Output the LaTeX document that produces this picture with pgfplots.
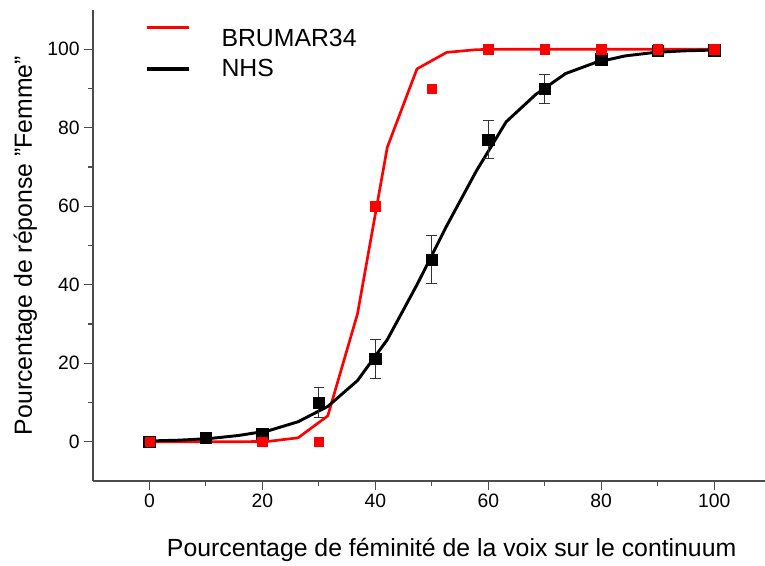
\documentclass[border=0pt]{standalone}
\usepackage{pgfplots}
\pgfplotsset{compat=1.18}
\usepackage{fontspec}
\setmainfont{Liberation Sans}
\begin{document}
\begin{tikzpicture}[x=0.75pt,y=0.75pt]
\begin{axis}[
  scale only axis,
  width=504pt, height=353.25pt,
  xmin=-10, xmax=109, ymin=-10, ymax=110,
  axis x line=bottom, axis y line=left,
  axis line style={-, line width=0.8pt, black!70},
  xtick={0,20,40,60,80,100}, ytick={0,20,40,60,80,100},
  minor x tick num=1, minor y tick num=1,
  tick align=outside,
  major tick length=6.5pt, minor tick length=4pt,
  tick style={line width=0.8pt, black!70},
  /pgf/number format/assume math mode=true,
  ticklabel style={font=\fontsize{14.5}{17}\selectfont},
  xlabel={Pourcentage de féminité de la voix sur le continuum},
  ylabel={Pourcentage de réponse \symbol{34}Femme\symbol{34}},
  label style={font=\fontsize{18.6}{22}\selectfont},
  xlabel style={at={(rel axis cs:0.5,0)}, anchor=base, yshift=-56.25pt, xshift=17pt},
  ylabel style={at={(axis description cs:-0.0908,0.5)}, anchor=base},
  legend style={draw=none, fill=none, at={(axis cs:-0.9,106)}, anchor=north west,
    inner sep=0pt, outer sep=0pt,
    font=\fontsize{18.6}{22}\selectfont, row sep=9pt, column sep=0pt,
    nodes={inner sep=0pt, outer sep=0pt, text height=13.5pt, text depth=0pt}},
  legend cell align=left,
  clip=false,
]
% fitted curves
\addplot[red, line width=2pt, line join=round,
  legend image code/.code={\draw[red, line width=2.8pt] (0pt,7.1pt) -- (31.5pt,7.1pt);
     \path[draw=none] (0pt,-7.1pt) -- (56.25pt,-7.1pt);}] coordinates {
(0,0) (5.26,0) (10.53,0) (15.79,0) (21.05,0.1) (26.32,1) (31.58,6.6) (36.84,32.6)
(42.11,75) (47.37,95) (52.63,99.2) (57.89,99.9) (63.16,100) (68.42,100) (73.68,100)
(78.95,100) (84.21,100) (89.47,100) (94.74,100) (100,100)};
\addlegendentry{BRUMAR34}
\addplot[black, line width=2.2pt, line join=round,
  legend image code/.code={\draw[black, line width=3.2pt] (0pt,-1.1pt) -- (31.5pt,-1.1pt);
     \path[draw=none] (0pt,1.1pt) -- (56.25pt,1.1pt);}] coordinates {
(0,0.2) (5.26,0.4) (10.53,0.8) (15.79,1.6) (21.05,2.8) (26.32,5.1) (31.58,9)
(36.84,15.6) (42.11,26) (47.37,40) (52.63,55) (57.89,69) (63.16,81.5) (68.42,88.5)
(73.68,93.8) (78.95,96.6) (84.21,98.3) (89.47,99.2) (94.74,99.6) (100,99.8)};
\addlegendentry{NHS}
% NHS data with error bars
\addplot[black, only marks, mark=square*, mark size=4.3pt, forget plot,
  error bars/.cd, y dir=both, y explicit,
  error bar style={line width=0.6pt, black!80},
  error mark options={rotate=90, mark size=4pt, line width=0.6pt, black!80}]
  coordinates {
(0,0) +- (0,0)
(10,1) +- (0,0)
(20,2) +- (0,0)
(30,10) +- (0,3.8)
(40,21.1) +- (0,5)
(50,46.4) +- (0,6.1)
(60,77) +- (0,4.8)
(70,90) +- (0,3.7)
(80,97.4) +- (0,0)
(90,99.6) +- (0,0)
(100,99.7) +- (0,0)};
% BRUMAR34 data
\addplot[red, only marks, mark=square*, mark size=3.5pt, forget plot] coordinates {
(0,0) (20,0) (30,0) (40,60) (50,90) (60,100) (70,100) (80,100) (90,100) (100,100)};
\end{axis}
\pgfresetboundingbox
\path[use as bounding box] (-69.75pt,-63pt) rectangle (504pt,360.75pt);
\end{tikzpicture}
\end{document}
